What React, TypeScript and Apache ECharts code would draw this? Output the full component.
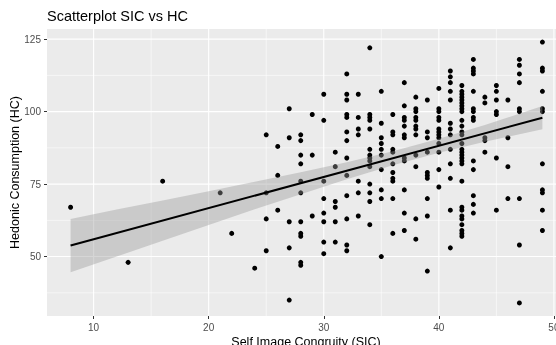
import React, { useEffect, useRef } from "react";
import * as echarts from "echarts";

const titleText = "Scatterplot SIC vs HC";
const xTitle = "Self Image Congruity (SIC)";
const yTitle = "Hedonic Consumption (HC)";

const xTicks = [10, 20, 30, 40, 50];
const yTicks = [50, 75, 100, 125];
const xMinor = [15, 25, 35, 45];
const yMinor = [37.5, 62.5, 87.5, 112.5];

// SIC scores (x) and the HC scores (y) observed at each SIC score
const sicLevels = [8, 13, 16, 21, 22, 24, 25, 26, 27, 28, 29, 30, 31, 32, 33, 34, 35, 36, 37, 38, 39, 40, 41, 42, 43, 44, 45, 46, 47, 49];
const hcValues = [
  [67],
  [48],
  [76],
  [72],
  [58],
  [46],
  [92, 72, 63, 52],
  [88, 78, 66],
  [101, 91, 62, 53, 35],
  [92, 90, 85, 82, 76, 72, 62, 58, 57, 48, 47],
  [99, 85, 64],
  [106, 97, 76, 70, 65, 62, 55, 51],
  [86, 81, 69, 67, 62, 55],
  [113, 106, 104, 99, 98, 93, 90, 84, 78, 71, 63, 54, 52],
  [106, 98, 94, 92, 76, 72, 64],
  [122, 99, 98, 97, 94, 87, 85, 84, 83, 81, 75, 72, 69, 61],
  [107, 96, 91, 89, 87, 85, 80, 73, 70, 50],
  [99, 93, 92, 87, 86, 82, 79, 77, 76, 70, 58],
  [110, 102, 98, 97, 95, 92, 91, 84, 83, 73, 65, 59],
  [105, 101, 100, 98, 97, 95, 94, 92, 85, 81, 63, 56],
  [104, 93, 91, 86, 79, 78, 77, 70, 64, 45],
  [108, 101, 100, 98, 97, 94, 93, 92, 91, 89, 86, 80, 74],
  [114, 112, 110, 107, 104, 96, 94, 92, 87, 82, 77, 66, 53],
  [109, 107, 106, 105, 104, 103, 102, 101, 100, 97, 95, 93, 92, 89, 87, 86, 85, 84, 83, 82, 76, 67, 66, 64, 63, 61, 59, 58, 57],
  [118, 115, 114, 113, 107, 101, 100, 98, 97, 83, 80, 71, 68, 65],
  [105, 103, 91, 90, 86],
  [109, 107, 104, 100, 99, 84, 66],
  [104, 91, 81, 70],
  [118, 116, 113, 110, 101, 100, 70, 54, 34],
  [124, 115, 114, 107, 101, 100, 82, 73, 72, 66, 59],
];

// Fitted regression line and its 95% confidence band
const fitX = [8, 49];
const fitY = [53.8, 97.9];
const bandX = [8, 12, 16, 20, 24, 28, 32, 36, 40, 44, 49];
const bandHi = [63.0, 66.2, 69.3, 72.5, 75.8, 79.1, 82.5, 86.3, 90.6, 95.4, 101.9];
const bandLo = [44.6, 50.0, 55.5, 60.9, 66.3, 71.5, 76.7, 81.5, 85.8, 89.6, 93.9];

const FONT = '"Liberation Sans", Arial, sans-serif';

const points: number[][] = sicLevels.flatMap((x, i) => hcValues[i].map((y) => [x, y]));

const dataXMin = Math.min(...points.map((p) => p[0]));
const dataXMax = Math.max(...points.map((p) => p[0]));
const dataYMin = Math.min(...points.map((p) => p[1]));
const dataYMax = Math.max(...points.map((p) => p[1]));
const xMin = dataXMin - 0.05 * (dataXMax - dataXMin);
const xMax = dataXMax + 0.05 * (dataXMax - dataXMin);
const yMin = dataYMin - 0.05 * (dataYMax - dataYMin);
const yMax = dataYMax + 0.05 * (dataYMax - dataYMin);

type GridLine = { dir: "v" | "h"; v: number; w: number };
const gridLines: GridLine[] = [
  ...xMinor.map((v) => ({ dir: "v" as const, v, w: 0.55 })),
  ...yMinor.map((v) => ({ dir: "h" as const, v, w: 0.55 })),
  ...xTicks.map((v) => ({ dir: "v" as const, v, w: 1.1 })),
  ...yTicks.map((v) => ({ dir: "h" as const, v, w: 1.1 })),
];

export default function App() {
  const ref = useRef<HTMLDivElement>(null);
  useEffect(() => {
    if (!ref.current) return;
    const chart = echarts.init(ref.current, undefined, { renderer: "svg" });
    chart.setOption({
      animation: false,
      grid: {
        left: 47,
        top: 29,
        right: -10,
        bottom: 29,
        show: true,
        backgroundColor: "#EBEBEB",
        borderWidth: 0,
        containLabel: false,
        outerBoundsMode: "none",
      },
      xAxis: {
        type: "value",
        min: xMin,
        max: xMax,
        axisLine: { show: false },
        splitLine: { show: false },
        axisTick: { show: true, length: 3, lineStyle: { color: "#333333", width: 1 }, customValues: xTicks },
        axisLabel: { customValues: xTicks, color: "#4D4D4D", fontSize: 10, margin: 6, fontFamily: FONT },
      },
      yAxis: {
        type: "value",
        min: yMin,
        max: yMax,
        axisLine: { show: false },
        splitLine: { show: false },
        axisTick: { show: true, length: 3, lineStyle: { color: "#333333", width: 1 }, customValues: yTicks },
        axisLabel: { customValues: yTicks, color: "#4D4D4D", fontSize: 10, margin: 6, fontFamily: FONT },
      },
      series: [
        {
          type: "custom",
          silent: true,
          z: 0,
          data: gridLines.map(() => [xMin, yMin]),
          renderItem: (params: any, api: any) => {
            const g = gridLines[params.dataIndex];
            const p1 = g.dir === "v" ? api.coord([g.v, yMin]) : api.coord([xMin, g.v]);
            const p2 = g.dir === "v" ? api.coord([g.v, yMax]) : api.coord([xMax, g.v]);
            return {
              type: "line",
              shape: { x1: p1[0], y1: p1[1], x2: p2[0], y2: p2[1] },
              style: { stroke: "#FFFFFF", lineWidth: g.w },
            };
          },
        },
        {
          type: "scatter",
          z: 2,
          symbol: "circle",
          symbolSize: 5,
          itemStyle: { color: "#000000", opacity: 1 },
          data: points,
        },
        {
          type: "custom",
          silent: true,
          z: 3,
          data: [[bandX[0], bandLo[0]]],
          renderItem: (params: any, api: any) => {
            const pts: number[][] = [];
            for (let i = 0; i < bandX.length; i++) pts.push(api.coord([bandX[i], bandHi[i]]));
            for (let i = bandX.length - 1; i >= 0; i--) pts.push(api.coord([bandX[i], bandLo[i]]));
            return {
              type: "polygon",
              shape: { points: pts, smooth: 0 },
              style: { fill: "#999999", opacity: 0.4 },
            };
          },
        },
        {
          type: "line",
          z: 4,
          silent: true,
          showSymbol: false,
          symbol: "none",
          lineStyle: { color: "#000000", width: 2 },
          data: fitX.map((x, i) => [x, fitY[i]]),
        },
      ],
      graphic: [
        {
          type: "text",
          x: 47,
          y: 15.5,
          style: { text: titleText, font: `14.5px ${FONT}`, fill: "#000000", textAlign: "left", textVerticalAlign: "middle" },
        },
        {
          type: "text",
          x: 306,
          y: 342,
          style: { text: xTitle, font: `12.5px ${FONT}`, fill: "#000000", textAlign: "center", textVerticalAlign: "middle" },
        },
        {
          type: "text",
          x: 14.5,
          y: 172.5,
          rotation: Math.PI / 2,
          style: { text: yTitle, font: `12.5px ${FONT}`, fill: "#000000", textAlign: "center", textVerticalAlign: "middle" },
        },
      ],
    });
    return () => chart.dispose();
  }, []);
  return <div ref={ref} style={{ position: "fixed", left: 0, top: 0, width: 556, height: 345 }} />;
}
